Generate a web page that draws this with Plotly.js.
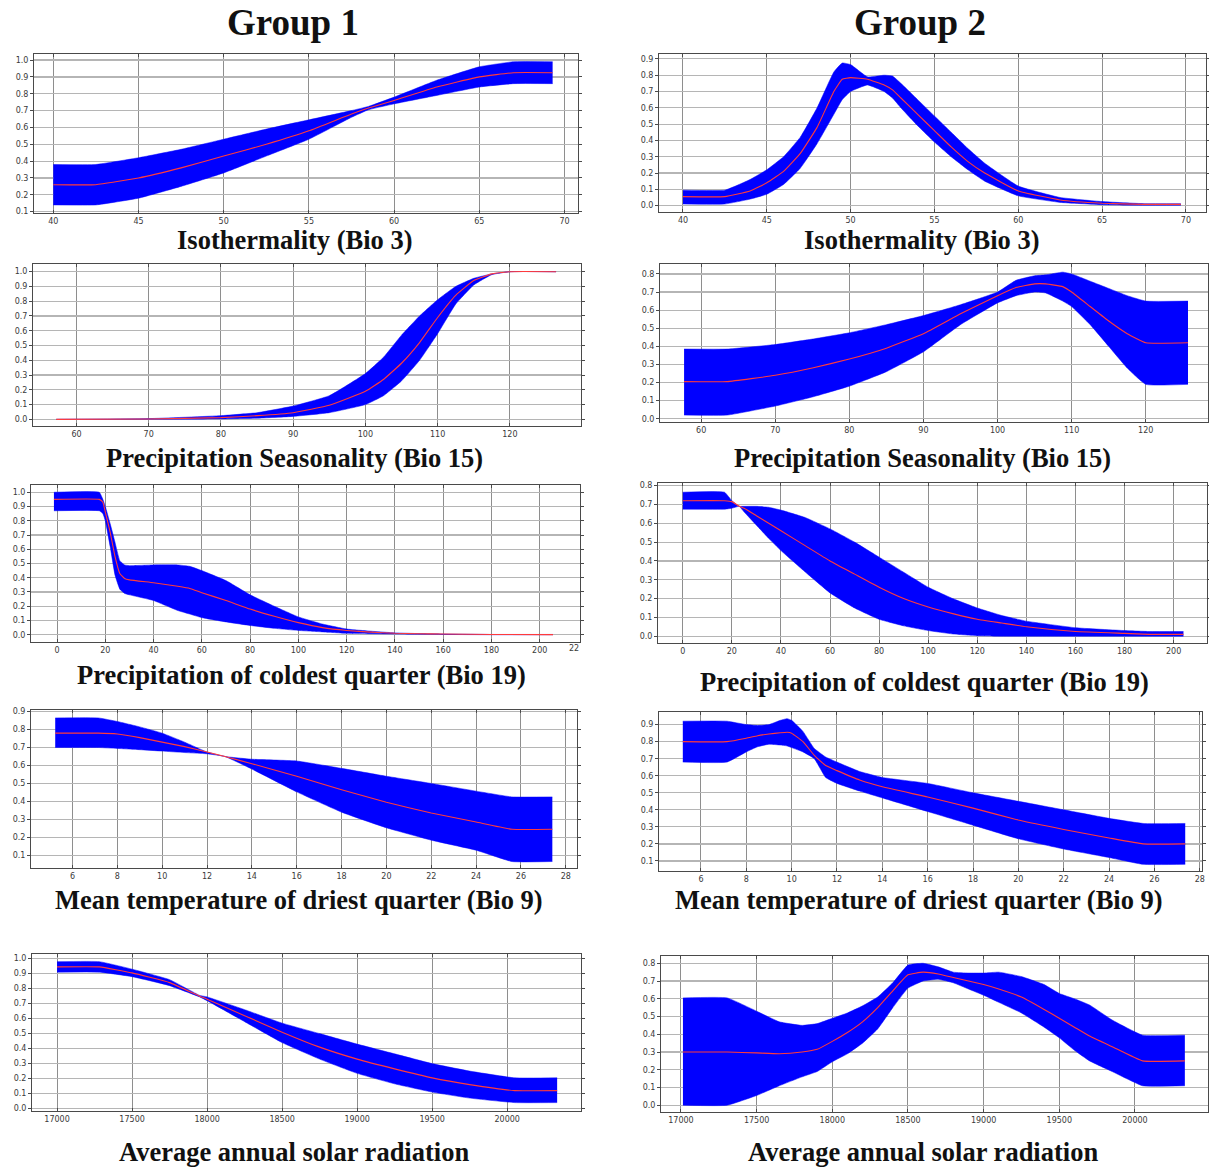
<!DOCTYPE html>
<html><head><meta charset="utf-8">
<script src="https://cdn.plot.ly/plotly-3.0.1.min.js"></script>
<style>body{margin:0;background:#fff}</style>
</head><body><div id="chart" style="width:1209px;height:1167px"></div>
<script>
// ---------- DATA ----------
const groupTitles = ["Group 1", "Group 2"];
const panelTitles = [
  "Isothermality (Bio 3)", "Isothermality (Bio 3)",
  "Precipitation Seasonality (Bio 15)", "Precipitation Seasonality (Bio 15)",
  "Precipitation of coldest quarter (Bio 19)", "Precipitation of coldest quarter (Bio 19)",
  "Mean temperature of driest quarter (Bio 9)", "Mean temperature of driest quarter (Bio 9)",
  "Average annual solar radiation", "Average annual solar radiation"
];

// Group 1 - Bio 3
const g1Bio3X     = [40, 42.5, 45, 47.5, 50, 52.5, 55, 57.5, 58.5, 60, 62.5, 65, 67, 69.3];
const g1Bio3Upper = [0.38, 0.38, 0.42, 0.47, 0.53, 0.59, 0.645, 0.70, 0.725, 0.78, 0.88, 0.96, 0.99, 0.99];
const g1Bio3Mean  = [0.26, 0.26, 0.30, 0.36, 0.43, 0.50, 0.58, 0.68, 0.715, 0.76, 0.84, 0.90, 0.925, 0.925];
const g1Bio3Lower = [0.14, 0.14, 0.18, 0.25, 0.33, 0.43, 0.53, 0.66, 0.705, 0.74, 0.79, 0.84, 0.86, 0.86];

// Group 2 - Bio 3
const g2Bio3X     = [40, 42.5, 44, 45, 46, 47, 48, 49, 49.5, 50, 51, 52, 52.5, 53, 54, 55, 56, 57, 58, 60, 62.5, 65, 67.5, 69.7];
const g2Bio3Upper = [0.095, 0.095, 0.16, 0.22, 0.30, 0.42, 0.60, 0.82, 0.875, 0.865, 0.79, 0.80, 0.795, 0.75, 0.65, 0.55, 0.45, 0.35, 0.26, 0.12, 0.05, 0.025, 0.012, 0.012];
const g2Bio3Mean  = [0.055, 0.055, 0.09, 0.14, 0.21, 0.32, 0.48, 0.70, 0.775, 0.785, 0.775, 0.74, 0.71, 0.66, 0.56, 0.46, 0.36, 0.27, 0.20, 0.09, 0.035, 0.015, 0.008, 0.008];
const g2Bio3Lower = [0.01, 0.01, 0.04, 0.07, 0.13, 0.23, 0.38, 0.56, 0.65, 0.70, 0.74, 0.70, 0.66, 0.60, 0.49, 0.39, 0.30, 0.22, 0.15, 0.06, 0.02, 0.006, 0.002, 0.002];

// Group 1 - Bio 15
const g1Bio15X     = [57.2, 70, 80, 85, 90, 95, 100, 102.5, 105, 107.5, 110, 112.5, 115, 117.5, 120, 126.4];
const g1Bio15Upper = [0, 0.005, 0.025, 0.045, 0.09, 0.16, 0.31, 0.42, 0.57, 0.70, 0.81, 0.90, 0.955, 0.985, 1.0, 1.0];
const g1Bio15Mean  = [0, 0.002, 0.012, 0.025, 0.045, 0.095, 0.19, 0.27, 0.38, 0.52, 0.69, 0.84, 0.94, 0.985, 1.0, 1.0];
const g1Bio15Lower = [0, 0.0, 0.003, 0.008, 0.02, 0.045, 0.10, 0.16, 0.26, 0.40, 0.58, 0.78, 0.91, 0.98, 1.0, 1.0];

// Group 2 - Bio 15
const g2Bio15X     = [57.7, 63.5, 70, 75, 80, 85, 90, 95, 100, 102.5, 105, 106.5, 108.8, 110, 112.5, 115, 117.5, 120, 125.7];
const g2Bio15Upper = [0.385, 0.385, 0.41, 0.44, 0.475, 0.52, 0.57, 0.63, 0.70, 0.765, 0.79, 0.795, 0.81, 0.80, 0.76, 0.72, 0.68, 0.65, 0.65];
const g2Bio15Mean  = [0.205, 0.205, 0.24, 0.28, 0.33, 0.39, 0.47, 0.58, 0.68, 0.725, 0.745, 0.745, 0.73, 0.70, 0.62, 0.54, 0.47, 0.42, 0.42];
const g2Bio15Lower = [0.02, 0.02, 0.07, 0.12, 0.18, 0.26, 0.37, 0.52, 0.64, 0.68, 0.70, 0.695, 0.65, 0.62, 0.52, 0.40, 0.28, 0.19, 0.19];

// Group 1 - Bio 19
const g1Bio19X     = [-1.3, 17.5, 19, 20, 22, 24, 26, 28, 30, 40, 50, 55, 60, 70, 80, 90, 100, 110, 120, 130, 140, 150, 160, 180, 205.5];
const g1Bio19Upper = [1.0, 1.0, 0.95, 0.90, 0.78, 0.65, 0.52, 0.49, 0.485, 0.49, 0.49, 0.48, 0.45, 0.38, 0.28, 0.20, 0.125, 0.075, 0.04, 0.025, 0.013, 0.008, 0.005, 0.002, 0.002];
const g1Bio19Mean  = [0.95, 0.95, 0.93, 0.86, 0.72, 0.55, 0.43, 0.395, 0.385, 0.365, 0.34, 0.325, 0.295, 0.24, 0.18, 0.13, 0.085, 0.05, 0.03, 0.018, 0.01, 0.007, 0.005, 0.002, 0.001];
const g1Bio19Lower = [0.87, 0.87, 0.85, 0.80, 0.62, 0.42, 0.32, 0.29, 0.28, 0.24, 0.17, 0.145, 0.12, 0.09, 0.065, 0.045, 0.03, 0.02, 0.01, 0.007, 0.005, 0.003, 0.002, 0.0, 0.0];

// Group 2 - Bio 19
const g2Bio19X     = [0, 17, 20, 23, 25, 30, 35, 40, 50, 60, 70, 80, 90, 100, 110, 120, 130, 140, 160, 180, 190, 204];
const g2Bio19Upper = [0.765, 0.765, 0.72, 0.69, 0.69, 0.69, 0.685, 0.67, 0.63, 0.57, 0.50, 0.42, 0.34, 0.26, 0.20, 0.15, 0.11, 0.08, 0.045, 0.03, 0.025, 0.025];
const g2Bio19Mean  = [0.72, 0.72, 0.715, 0.69, 0.68, 0.64, 0.60, 0.56, 0.48, 0.40, 0.33, 0.26, 0.20, 0.155, 0.12, 0.09, 0.07, 0.05, 0.025, 0.015, 0.01, 0.01];
const g2Bio19Lower = [0.675, 0.675, 0.68, 0.69, 0.66, 0.59, 0.52, 0.455, 0.34, 0.23, 0.15, 0.09, 0.055, 0.03, 0.012, 0.003, 0.0, 0.0, 0.0, 0.0, 0.0, 0.0];

// Group 1 - Bio 9
const g1Bio9X     = [5.23, 7.15, 8, 9, 10, 11, 12, 12.8, 14, 16, 18, 20, 22, 24, 25.6, 27.4];
const g1Bio9Upper = [0.865, 0.865, 0.845, 0.815, 0.78, 0.73, 0.675, 0.65, 0.635, 0.625, 0.584, 0.54, 0.50, 0.457, 0.425, 0.425];
const g1Bio9Mean  = [0.78, 0.78, 0.775, 0.755, 0.73, 0.705, 0.675, 0.65, 0.61, 0.54, 0.465, 0.395, 0.335, 0.285, 0.245, 0.245];
const g1Bio9Lower = [0.70, 0.70, 0.695, 0.688, 0.68, 0.672, 0.665, 0.65, 0.58, 0.453, 0.34, 0.253, 0.184, 0.128, 0.065, 0.065];

// Group 2 - Bio 9
const g2Bio9X     = [5.2, 7.15, 8, 8.5, 9, 9.5, 9.8, 10, 10.5, 11, 11.5, 12, 13, 14, 16, 18, 20, 22, 24, 25.5, 27.36];
const g2Bio9Upper = [0.92, 0.92, 0.90, 0.895, 0.90, 0.925, 0.935, 0.925, 0.86, 0.76, 0.71, 0.68, 0.625, 0.59, 0.555, 0.50, 0.45, 0.40, 0.35, 0.32, 0.32];
const g2Bio9Mean  = [0.80, 0.80, 0.82, 0.835, 0.845, 0.852, 0.855, 0.85, 0.80, 0.72, 0.66, 0.63, 0.575, 0.535, 0.475, 0.41, 0.34, 0.285, 0.235, 0.20, 0.20];
const g2Bio9Lower = [0.68, 0.68, 0.74, 0.77, 0.785, 0.78, 0.775, 0.765, 0.74, 0.70, 0.59, 0.555, 0.51, 0.47, 0.39, 0.31, 0.23, 0.17, 0.12, 0.08, 0.08];

// Group 1 - Solar radiation
const g1SolarX     = [17000, 17282, 17500, 17750, 17950, 18000, 18250, 18500, 18750, 19000, 19250, 19500, 19750, 20050, 20333];
const g1SolarUpper = [0.98, 0.98, 0.93, 0.86, 0.755, 0.745, 0.66, 0.57, 0.50, 0.43, 0.365, 0.30, 0.25, 0.205, 0.205];
const g1SolarMean  = [0.945, 0.945, 0.905, 0.84, 0.75, 0.73, 0.62, 0.51, 0.41, 0.33, 0.265, 0.205, 0.16, 0.12, 0.12];
const g1SolarLower = [0.91, 0.91, 0.88, 0.82, 0.745, 0.72, 0.58, 0.44, 0.33, 0.235, 0.165, 0.11, 0.07, 0.04, 0.04];

// Group 2 - Solar radiation
const g2SolarX     = [17013, 17305, 17500, 17650, 17800, 17900, 18000, 18100, 18200, 18300, 18400, 18500, 18600, 18700, 18800, 18900, 19000, 19100, 19250, 19400, 19500, 19600, 19700, 19850, 20050, 20330];
const g2SolarUpper = [0.605, 0.605, 0.53, 0.47, 0.45, 0.46, 0.49, 0.52, 0.56, 0.61, 0.69, 0.79, 0.80, 0.78, 0.75, 0.745, 0.745, 0.75, 0.725, 0.68, 0.63, 0.60, 0.565, 0.48, 0.395, 0.395];
const g2SolarMean  = [0.30, 0.30, 0.295, 0.29, 0.30, 0.315, 0.36, 0.41, 0.47, 0.55, 0.645, 0.735, 0.75, 0.74, 0.72, 0.70, 0.68, 0.655, 0.61, 0.54, 0.49, 0.44, 0.39, 0.33, 0.25, 0.25];
const g2SolarLower = [0.0, 0.0, 0.055, 0.11, 0.16, 0.19, 0.245, 0.29, 0.35, 0.43, 0.55, 0.66, 0.70, 0.71, 0.69, 0.655, 0.62, 0.58, 0.52, 0.44, 0.38, 0.31, 0.25, 0.19, 0.11, 0.11];

const seriesX     = [g1Bio3X, g2Bio3X, g1Bio15X, g2Bio15X, g1Bio19X, g2Bio19X, g1Bio9X, g2Bio9X, g1SolarX, g2SolarX];
const seriesUpper = [g1Bio3Upper, g2Bio3Upper, g1Bio15Upper, g2Bio15Upper, g1Bio19Upper, g2Bio19Upper, g1Bio9Upper, g2Bio9Upper, g1SolarUpper, g2SolarUpper];
const seriesMean  = [g1Bio3Mean, g2Bio3Mean, g1Bio15Mean, g2Bio15Mean, g1Bio19Mean, g2Bio19Mean, g1Bio9Mean, g2Bio9Mean, g1SolarMean, g2SolarMean];
const seriesLower = [g1Bio3Lower, g2Bio3Lower, g1Bio15Lower, g2Bio15Lower, g1Bio19Lower, g2Bio19Lower, g1Bio9Lower, g2Bio9Lower, g1SolarLower, g2SolarLower];

// ---------- LAYOUT CONFIG (pixels) ----------
const W = 1209, H = 1167;
const panels = [
  {px:[34,578],  py:[54,213],  xr:[38.87,70.79],  yr:[0.092,1.036],  xd:5,   tx:[295,240]},
  {px:[659,1206],py:[54,212],  xr:[38.57,71.2],   yr:[-0.039,0.93],  xd:5,   tx:[922,240]},
  {px:[33,581],  py:[264,426], xr:[53.98,129.85], yr:[-0.045,1.052], xd:10,  tx:[294,458]},
  {px:[660,1208],py:[264,422], xr:[54.45,128.4],  yr:[-0.018,0.855], xd:10,  tx:[922,458]},
  {px:[31,580],  py:[485,642], xr:[-10.8,216.7],  yr:[-0.051,1.051], xd:20,  tx:[301,675]},
  {px:[658,1207],py:[483,643], xr:[-10.1,213.6],  yr:[-0.036,0.814], xd:20,  tx:[924,682]},
  {px:[31,577],  py:[710,868], xr:[4.15,28.5],    yr:[0.029,0.909],  xd:2,   tx:[299,900]},
  {px:[659,1202],py:[712,871], xr:[4.15,28.1],    yr:[0.041,0.974],  xd:2,   tx:[919,900]},
  {px:[32,581],  py:[954,1111],xr:[16833,20492],  yr:[-0.016,1.031], xd:500, tx:[294,1152]},
  {px:[661,1208],py:[956,1112],xr:[16868,20483],  yr:[-0.038,0.841], xd:500, tx:[923,1152]}
];

const tickFont = {family:'DejaVu Sans, Arial, sans-serif', size:8, color:'#3a3a3a'};
const titleFont = {family:'Liberation Serif, Times New Roman, serif', size:26.5, color:'#111'};

const data = [];
const layout = {
  width: W, height: H,
  margin: {l:0, r:0, t:0, b:0},
  paper_bgcolor: '#fff', plot_bgcolor: '#fff',
  showlegend: false,
  annotations: [],
  shapes: []
};

panels.forEach((p, i) => {
  const n = i + 1;
  const xa = n === 1 ? 'x' : 'x' + n;
  const ya = n === 1 ? 'y' : 'y' + n;
  const ln = {shape:'spline', smoothing:0.35};
  data.push({x: seriesX[i], y: seriesLower[i], xaxis: xa, yaxis: ya, mode:'lines',
             line:Object.assign({width:0.5, color:'#0000ff'}, ln), hoverinfo:'skip'});
  data.push({x: seriesX[i], y: seriesUpper[i], xaxis: xa, yaxis: ya, mode:'lines', fill:'tonexty',
             fillcolor:'#0000ff', line:Object.assign({width:0.5, color:'#0000ff'}, ln), hoverinfo:'skip'});
  data.push({x: seriesX[i], y: seriesMean[i], xaxis: xa, yaxis: ya, mode:'lines',
             line:Object.assign({width:1.1, color:'#ff3b3b'}, ln)});
  const axCommon = {
    showline:true, linecolor:'#4a4a4a', linewidth:1, mirror:'ticks',
    tickcolor:'#4a4a4a', tickfont: tickFont,
    showgrid:true, zeroline:false, fixedrange:true
  };
  layout['xaxis' + (n===1?'':n)] = Object.assign({}, axCommon, {
    domain:[p.px[0]/W, p.px[1]/W], range:p.xr, dtick:p.xd, tick0:0,
    ticks:'inside', ticklen:3,
    tickformat:'d', gridcolor:'#8e8e8e', gridwidth:1, anchor: ya
  });
  layout['yaxis' + (n===1?'':n)] = Object.assign({}, axCommon, {
    domain:[1 - p.py[1]/H, 1 - p.py[0]/H], range:p.yr, dtick:0.1, tick0:0,
    ticks:'outside', ticklen:3,
    tickformat:'.1f', gridcolor:'#b5b5b5', gridwidth:1.2, anchor: xa
  });
  layout.annotations.push({
    text:'<b>' + panelTitles[i] + '</b>', xref:'paper', yref:'paper',
    x:p.tx[0]/W, y:1 - p.tx[1]/H, xanchor:'center', yanchor:'middle',
    showarrow:false, font: titleFont
  });
});

// group headers
layout.annotations.push({text:'<b>' + groupTitles[0] + '</b>', xref:'paper', yref:'paper',
  x:293/W, y:1 - 22/H, xanchor:'center', yanchor:'middle', showarrow:false,
  font:{family:'Liberation Serif, Times New Roman, serif', size:37, color:'#111'}});
layout.annotations.push({text:'<b>' + groupTitles[1] + '</b>', xref:'paper', yref:'paper',
  x:920/W, y:1 - 22/H, xanchor:'center', yanchor:'middle', showarrow:false,
  font:{family:'Liberation Serif, Times New Roman, serif', size:37, color:'#111'}});
// truncated edge tick label of the Bio 19 (Group 1) panel
layout.annotations.push({text:'22', xref:'paper', yref:'paper', x:574/W, y:1 - 648/H,
  xanchor:'center', yanchor:'middle', showarrow:false, font: tickFont});

Plotly.newPlot('chart', data, layout, {staticPlot:true, displayModeBar:false});
</script></body></html>
